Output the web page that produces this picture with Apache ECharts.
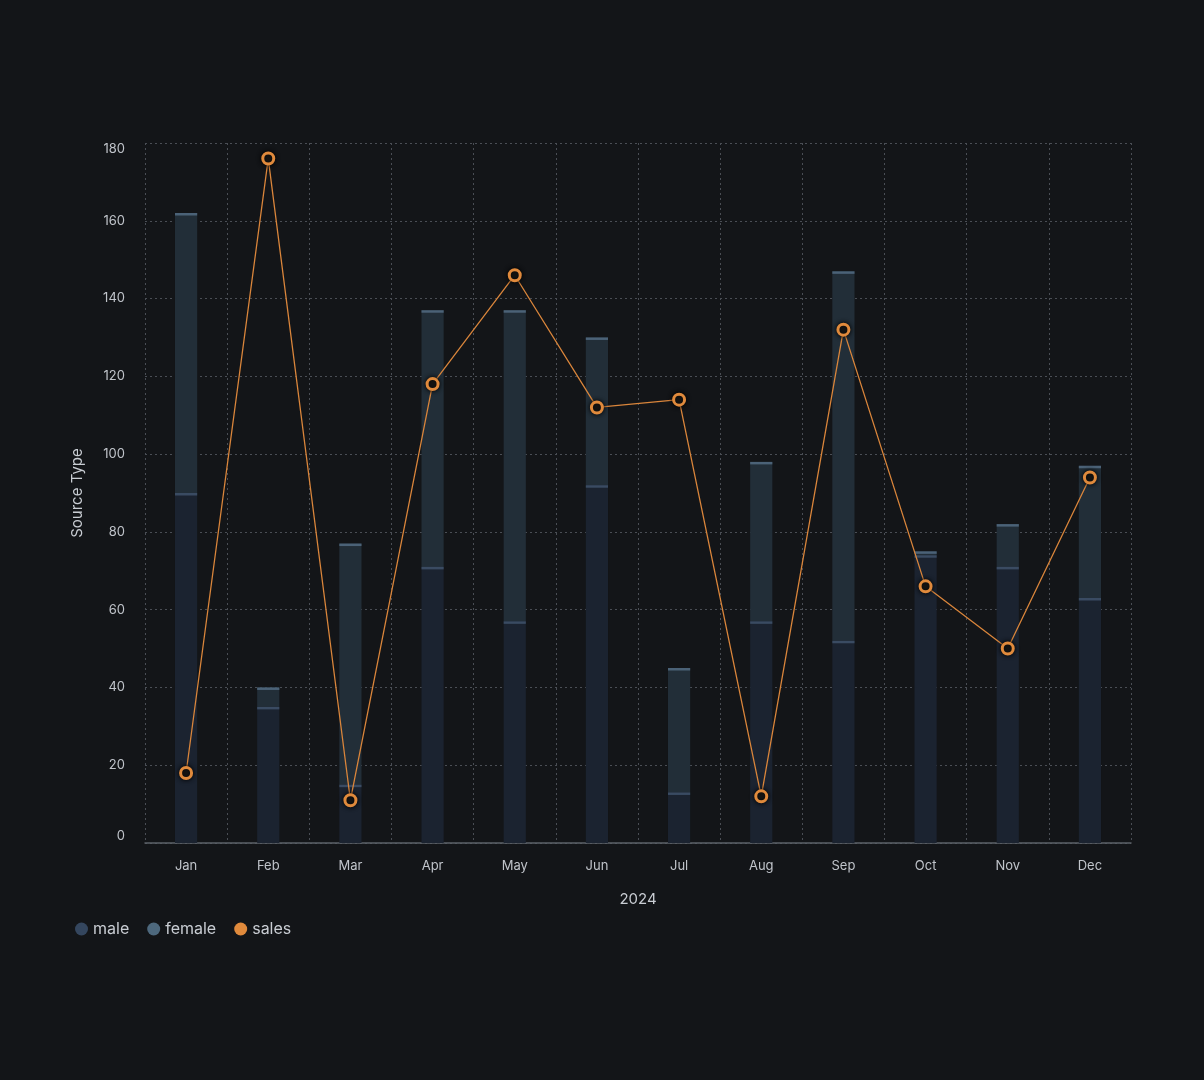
<!DOCTYPE html>
<html>
<head>
<meta charset="utf-8">
<script src="https://cdn.jsdelivr.net/npm/echarts@6/dist/echarts.min.js"></script>
<style>
html,body{margin:0;padding:0;background:#131518;}
#chart{width:1204px;height:1080px;}
</style>
</head>
<body>
<div id="chart"></div>
<script>
const categories = ['Jan','Feb','Mar','Apr','May','Jun','Jul','Aug','Sep','Oct','Nov','Dec'];
const male   = [90, 35, 15, 71, 57, 92, 13, 57, 52, 74, 71, 63];
const female = [72,  5, 62, 66, 80, 38, 32, 41, 95,  1, 11, 34];
const sales  = [18, 176, 11, 118, 146, 112, 114, 12, 132, 66, 50, 94];
const yTicks = { min: 0, max: 180, interval: 20 };

const FONT = 'Inter, "Liberation Sans", sans-serif';
const maleTop = male.slice();
const femaleTop = male.map((m, i) => m + female[i]);

function stripe(tops, color) {
  return {
    type: 'custom',
    silent: true,
    z: 3,
    data: tops.map((v, i) => [i, v]),
    renderItem: function (params, api) {
      const p = api.coord([api.value(0), api.value(1)]);
      const w = api.size([1, 0])[0] * 0.27;
      return {
        type: 'rect',
        shape: { x: p[0] - w / 2, y: p[1], width: w, height: 2.5 },
        style: { fill: color }
      };
    }
  };
}

const chart = echarts.init(document.getElementById('chart'));
chart.setOption({
  backgroundColor: '#131518',
  animation: false,
  textStyle: { fontFamily: FONT },
  grid: { left: 145, right: 73, top: 143, bottom: 237, containLabel: false },
  legend: {
    left: 70, top: 916,
    icon: 'circle', itemWidth: 13, itemHeight: 13, itemGap: 18,
    textStyle: { color: '#c9cdd3', fontSize: 16, fontFamily: FONT },
    data: [
      { name: 'male', itemStyle: { color: '#34465e', borderWidth: 0 } },
      { name: 'female', itemStyle: { color: '#4d687d', borderWidth: 0 } },
      { name: 'sales', itemStyle: { color: '#e08a3c', borderWidth: 0 } }
    ]
  },
  xAxis: {
    type: 'category',
    data: categories,
    name: '2024',
    nameLocation: 'middle',
    nameGap: 49,
    nameTextStyle: { color: '#c9cdd3', fontSize: 15, fontFamily: FONT },
    axisLine: { show: true, lineStyle: { color: '#5c6168', width: 1.5 } },
    axisTick: { show: false },
    axisLabel: { color: '#c0c4ca', fontSize: 13, margin: 17, fontFamily: FONT },
    splitLine: { show: true, lineStyle: { color: '#4a4e55', type: [2, 3], width: 1 } }
  },
  yAxis: {
    type: 'value',
    min: yTicks.min, max: yTicks.max, interval: yTicks.interval,
    name: 'Source Type',
    nameLocation: 'middle',
    nameGap: 60,
    nameTextStyle: { color: '#c9cdd3', fontSize: 15, fontFamily: FONT },
    axisLine: { show: false },
    axisTick: { show: false },
    axisLabel: {
      color: '#c0c4ca', fontSize: 13, margin: 20, fontFamily: FONT,
      verticalAlignMinLabel: 'bottom', verticalAlignMaxLabel: 'top'
    },
    splitLine: { show: true, lineStyle: { color: '#4a4e55', type: [2, 3], width: 1 } }
  },
  series: [
    {
      name: 'male', type: 'bar', stack: 'total', barWidth: '27%',
      data: male, color: '#34465e',
      itemStyle: { color: '#1b2330' }, z: 2
    },
    {
      name: 'female', type: 'bar', stack: 'total', barWidth: '27%',
      data: female, color: '#4d687d',
      itemStyle: { color: '#222e38' }, z: 2
    },
    stripe(maleTop, '#3a4b62'),
    stripe(femaleTop, '#4b6277'),
    {
      name: 'sales', type: 'line', data: sales, color: '#e08a3c',
      symbol: 'circle', symbolSize: 11, showSymbol: true, z: 5,
      lineStyle: { color: '#d9853b', width: 1.3 },
      itemStyle: {
        color: '#1c1a18', borderColor: '#e08a3c', borderWidth: 3,
        shadowBlur: 5, shadowColor: 'rgba(0,0,0,0.95)'
      }
    }
  ]
});
</script>
</body>
</html>
